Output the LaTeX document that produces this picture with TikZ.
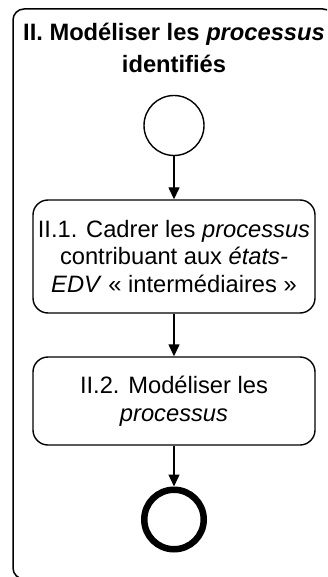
\documentclass[tikz,border=0pt]{standalone}
\usepackage{fontspec}
\setmainfont{Liberation Sans}
\usetikzlibrary{arrows.meta}
\begin{document}
\begin{tikzpicture}[x=1pt,y=-1pt,
  lw/.style={line width=1.4pt},
  txt/.style={font=\fontsize{23.7}{27.5}\selectfont},
  titletxt/.style={font=\fontsize{23.7}{27.5}\selectfont\bfseries,inner sep=0pt,anchor=base},
  procbox/.style={draw,lw,rounded corners=15pt,minimum width=282pt,align=center,inner sep=0pt,txt},
  startev/.style={circle,draw,lw,minimum size=60pt,inner sep=0pt},
  endev/.style={circle,draw,line width=6.5pt,minimum size=59.5pt,inner sep=0pt},
  flow/.style={lw,-{Triangle[width=11pt,length=12pt]}}]
\clip (0,0) rectangle (327,577);
\draw[line width=1.5pt,rounded corners=11pt] (13,9) rectangle (334,579);
\node[titletxt] (t1) at (174,40.7) {II. Modéliser les \textit{processus}};
\node[titletxt] (t2) at (174,73) {identifiés};
\node[startev] (start) at (174,125.5) {};
\node[procbox,minimum height=113pt] (b1) at (174,256.5)
  {II.1. Cadrer les \textit{processus}\\contribuant aux \textit{états-}\\\textit{EDV} « intermédiaires »};
\node[procbox,minimum height=88pt] (b2) at (174,401)
  {II.2. Modéliser les\\\textit{processus}};
\node[endev] (end) at (174,519.5) {};
\draw[flow] (start) -- (b1);
\draw[flow] (b1) -- (b2);
\draw[flow] (b2) -- (end);
\end{tikzpicture}
\end{document}
